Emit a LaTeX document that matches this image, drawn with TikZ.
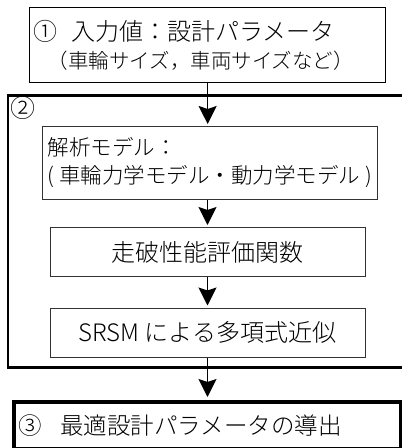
\documentclass[tikz,border=0pt]{standalone}
\usepackage{fontspec}
\IfFontExistsTF{Noto Sans CJK JP Light}
  {\setmainfont{Noto Sans CJK JP Light}}
  {\setmainfont{Noto Sans CJK JP}}
\usetikzlibrary{arrows.meta,positioning}

\tikzset{
  stepbox/.style={draw, line width=1.3pt, inner sep=4pt, align=left},
  innerbox/.style={draw=black!80, line width=1pt, inner sep=0pt,
    minimum width=315pt, minimum height=49pt,
    font=\fontsize{24pt}{28pt}\selectfont},
  flowarrow/.style={-{Stealth[length=18pt,width=18pt,inset=3pt]},
    line width=1.6pt, shorten >=2pt},
}

\begin{document}
\begin{tikzpicture}[x=1pt,y=-1pt]
\useasboundingbox (0,0) rectangle (402,448);

% frame of step 2
\node[draw, line width=2.5pt, minimum width=398pt, minimum height=272pt,
  inner sep=0pt] (stage) at (207,231.5) {};
\node[anchor=north west, inner sep=0pt,
  font=\fontsize{25pt}{25pt}\selectfont] (numtwo) at (10,96) {②};

% step 1
\node[stepbox, anchor=north west, text width=348pt, minimum height=75pt,
  font=\fontsize{24pt}{28pt}\selectfont] (input) at (29,7)
  {①\hspace{14pt}入力値：設計パラメータ\\
   {\fontsize{20.5pt}{28pt}\selectfont\hspace{14pt}（車輪サイズ，車両サイズなど）}};

% inside step 2
\node[draw=black!80, line width=1pt, anchor=north west, inner sep=5pt,
  minimum width=335pt, minimum height=73pt, align=left,
  font=\fontsize{21.5pt}{28pt}\selectfont] (model) at (42,126)
  {解析モデル：\\( 車輪力学モデル・動力学モデル )};
\node[innerbox] (evalfn) at (207.5,252) {走破性能評価関数};
\node[innerbox] (approx) at (207.5,332.5) {SRSM による多項式近似};

% step 3
\node[draw, line width=3.5pt, anchor=north west, inner sep=5pt,
  text width=377pt, minimum height=47pt, align=left,
  font=\fontsize{23.5pt}{28pt}\selectfont] (result) at (12,400)
  {③\hspace{18pt}最適設計パラメータの導出};

\draw[flowarrow] (input.south) -- (input.south |- model.north);
\draw[flowarrow] (evalfn.north |- model.south) -- (evalfn.north);
\draw[flowarrow] (evalfn) -- (approx);
\draw[flowarrow, shorten >=3pt] (approx.south) -- (approx.south |- result.north);

\end{tikzpicture}
\end{document}
